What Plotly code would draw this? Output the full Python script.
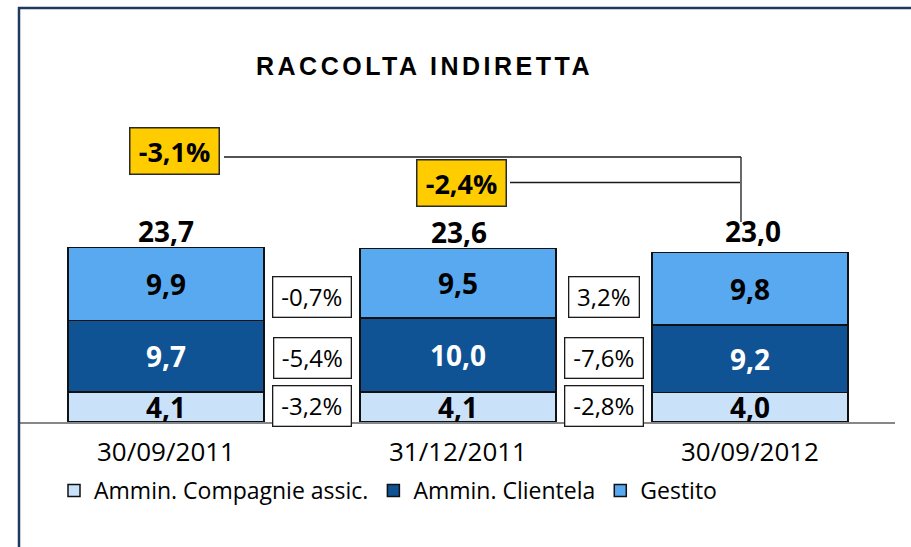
import plotly.graph_objects as go

# ---------------- data ----------------
categories = ["30/09/2011", "31/12/2011", "30/09/2012"]
series_names = ["Ammin. Compagnie assic.", "Ammin. Clientela", "Gestito"]
amm_compagnie = [4.1, 4.1, 4.0]
amm_clientela = [9.7, 10.0, 9.2]
gestito = [9.9, 9.5, 9.8]
totals = [23.7, 23.6, 23.0]
# period changes between columns (bottom, middle, top segment)
chg_1 = ["-3,2%", "-5,4%", "-0,7%"]   # 30/09/2011 -> 31/12/2011
chg_2 = ["-2,8%", "-7,6%", "3,2%"]    # 31/12/2011 -> 30/09/2012
total_changes = ["-3,1%", "-2,4%"]    # vs 30/09/2011, vs 31/12/2011

# ---------------- styles ----------------
W, H = 911, 547
ML, MR, MT, MB = 19, 16, 8, 125
PW, PH = W - ML - MR, H - MT - MB
PX_PER_UNIT = 7.36
colors = ["#C9E2FA", "#0F5395", "#59A9F1"]
label_colors = ["#000000", "#FFFFFF", "#000000"]
FONT = "Open Sans, Lato, DejaVu Sans, sans-serif"
FRAME = "#1F3A60"


def px_x(px):
    return (px - ML) / PW


def px_y(py):
    return (H - MB - py) / PH


fig = go.Figure()
for name, vals, col, lc in zip(series_names, [amm_compagnie, amm_clientela, gestito], colors, label_colors):
    fig.add_trace(go.Bar(
        x=categories, y=vals, name=name,
        marker=dict(color=col, line=dict(color="#111111", width=1.5)),
        width=0.67,
        text=vals, texttemplate="<b>%{y:.1f}</b>",
        textposition="inside", insidetextanchor="middle",
        constraintext="none",
        textfont=dict(family=FONT, size=28, color=lc),
        cliponaxis=False,
    ))

ann = []
# title
ann.append(dict(xref="paper", yref="paper", x=px_x(424), y=px_y(66),
                text="<span style='letter-spacing:3.5px'><b>RACCOLTA INDIRETTA</b></span>",
                showarrow=False, xanchor="center", yanchor="middle",
                font=dict(family="Liberation Sans, Arial, sans-serif", size=25, color="#000")))
# totals above bars
total_shift = [17, 16, 22]
for i, (c, t) in enumerate(zip(categories, totals)):
    ann.append(dict(x=c, y=t, xref="x", yref="y", text="<b>%s</b>" % f"{t:.1f}".replace(".", ","),
                    showarrow=False, yanchor="middle", yshift=total_shift[i], xshift=[0, 1, 3][i],
                    font=dict(family=FONT, size=28, color="#000")))

# small change boxes between columns
box_y_px = [406, 357.5, 297]
box_w = [[77, 76, 77], [77, 77, 69]]
for col_i, chg in enumerate([chg_1, chg_2]):
    for j, s in enumerate(chg):
        ann.append(dict(x=col_i + 0.5, xref="x", yref="paper", y=px_y(box_y_px[j]),
                        text=s, showarrow=False, xanchor="center", yanchor="middle",
                        xshift=[0, 1, 0][j] if col_i == 0 else [0, 0, 0][j],
                        width=box_w[col_i][j], height=39, borderpad=0,
                        bgcolor="#FFFFFF", bordercolor="#1A1A1A", borderwidth=1.3,
                        font=dict(family=FONT, size=24, color="#000")))

# yellow total-change boxes
ybox_px = [(174, 150.5), (461, 183)]
for (bx, by), s in zip(ybox_px, total_changes):
    ann.append(dict(xref="paper", yref="paper", x=px_x(bx), y=px_y(by), text="<b>%s</b>" % s,
                    showarrow=False, xanchor="center", yanchor="middle",
                    width=88, height=45, borderpad=0,
                    bgcolor="#FFCC00", bordercolor="#2A2A2A", borderwidth=1.5,
                    font=dict(family=FONT, size=27, color="#000")))

shapes = []
# connector lines
lc = dict(color="#1A1A1A", width=1.3)
shapes.append(dict(type="line", xref="paper", yref="paper", x0=px_x(224), x1=px_x(741),
                   y0=px_y(157), y1=px_y(157), line=lc))
shapes.append(dict(type="line", xref="paper", yref="paper", x0=px_x(741), x1=px_x(741),
                   y0=px_y(157), y1=px_y(222), line=lc))
shapes.append(dict(type="line", xref="paper", yref="paper", x0=px_x(510), x1=px_x(740),
                   y0=px_y(182.5), y1=px_y(182.5), line=lc))
# outer frame (left and top)
shapes.append(dict(type="line", xref="paper", yref="paper", x0=px_x(19), x1=px_x(19),
                   y0=px_y(7), y1=px_y(H + 2), line=dict(color=FRAME, width=2.5)))
shapes.append(dict(type="line", xref="paper", yref="paper", x0=px_x(18), x1=px_x(W + 2),
                   y0=px_y(8), y1=px_y(8), line=dict(color=FRAME, width=2.5)))

fig.update_layout(
    width=W, height=H,
    margin=dict(l=ML, r=MR, t=MT, b=MB, pad=0),
    paper_bgcolor="#FFFFFF", plot_bgcolor="#FFFFFF",
    barmode="stack", bargap=0.33,
    separators=",.",
    showlegend=True,
    legend=dict(orientation="h", x=px_x(54), y=px_y(469), xanchor="left", yanchor="top",
                font=dict(family=FONT, size=23, color="#000"),
                traceorder="normal", itemclick=False, bgcolor="rgba(0,0,0,0)",
                tracegroupgap=0, itemwidth=30),
    xaxis=dict(type="category", range=[-0.5034, 2.4966], showline=True, linecolor="#878787",
               linewidth=2, ticks="", showgrid=False, zeroline=False,
               tickfont=dict(family=FONT, size=26, color="#000"), ticklabelstandoff=6,
               fixedrange=True),
    yaxis=dict(range=[0, PH / PX_PER_UNIT], visible=False, showgrid=False, zeroline=False,
               fixedrange=True),
    annotations=ann, shapes=shapes,
    font=dict(family=FONT),
)

fig.write_html("out.html", config={"displayModeBar": False},
               post_script="document.body.style.margin='0px';document.body.style.overflow='hidden';")
